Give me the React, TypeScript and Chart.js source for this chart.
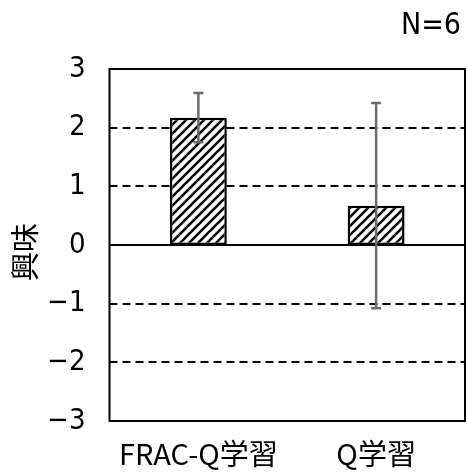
import React, { useEffect, useRef } from "react";
import { Chart, registerables } from "chart.js";

Chart.register(...registerables);

const categories = ["FRAC-Q学習", "Q学習"];
const means = [2.17, 0.67];
const errors = [0.42, 1.75];
const yMin = -3;
const yMax = 3;
const dashedTicks = [-2, -1, 1, 2];
const sampleLabel = "N=6";
const yTitle = "興味";

const FONT = "'DejaVu Sans Condensed', 'Noto Sans CJK JP', sans-serif";
const CAT_FONT = "'Noto Sans CJK JP', sans-serif";

function makeHatch(): CanvasPattern | string {
  const n = 9;
  const c = document.createElement("canvas");
  c.width = n;
  c.height = n;
  const g = c.getContext("2d");
  if (!g) return "#fff";
  g.fillStyle = "#fff";
  g.fillRect(0, 0, n, n);
  g.strokeStyle = "#000";
  g.lineWidth = 2.6;
  g.beginPath();
  g.moveTo(-2, n + 2);
  g.lineTo(n + 2, -2);
  g.moveTo(-3, 3);
  g.lineTo(3, -3);
  g.moveTo(n - 3, n + 3);
  g.lineTo(n + 3, n - 3);
  g.stroke();
  const p = g.createPattern(c, "repeat");
  return p || "#fff";
}

const decorPlugin = {
  id: "decor",
  beforeDatasetsDraw(chart: any) {
    const { ctx, chartArea } = chart;
    const y = chart.scales.y;
    ctx.save();
    ctx.strokeStyle = "#000";
    ctx.lineWidth = 2;
    ctx.setLineDash([8, 5]);
    dashedTicks.forEach((v) => {
      const py = Math.round(y.getPixelForValue(v));
      ctx.beginPath();
      ctx.moveTo(chartArea.left, py);
      ctx.lineTo(chartArea.right, py);
      ctx.stroke();
    });
    ctx.setLineDash([]);
    const zy = Math.round(y.getPixelForValue(0));
    ctx.beginPath();
    ctx.moveTo(chartArea.left, zy);
    ctx.lineTo(chartArea.right, zy);
    ctx.stroke();
    ctx.strokeRect(chartArea.left, chartArea.top, chartArea.right - chartArea.left, chartArea.bottom - chartArea.top);
    ctx.restore();
  },
  afterDatasetsDraw(chart: any) {
    const { ctx } = chart;
    const y = chart.scales.y;
    const meta = chart.getDatasetMeta(0);
    ctx.save();
    ctx.strokeStyle = "#6b6b6b";
    ctx.lineWidth = 2.5;
    meta.data.forEach((bar: any, i: number) => {
      const x = bar.x;
      const top = y.getPixelForValue(means[i] + errors[i]);
      const bot = y.getPixelForValue(means[i] - errors[i]);
      ctx.beginPath();
      ctx.moveTo(x, top);
      ctx.lineTo(x, bot);
      ctx.moveTo(x - 5, top);
      ctx.lineTo(x + 5, top);
      ctx.moveTo(x - 5, bot);
      ctx.lineTo(x + 5, bot);
      ctx.stroke();
    });
    ctx.restore();
  },
  afterDraw(chart: any) {
    const { ctx, chartArea } = chart;
    ctx.save();
    ctx.fillStyle = "#000";
    ctx.font = `30px ${FONT}`;
    ctx.textAlign = "right";
    ctx.textBaseline = "middle";
    ctx.fillText(sampleLabel, 461, 26);
    ctx.font = `29px ${CAT_FONT}`;
    ctx.translate(25, (chartArea.top + chartArea.bottom) / 2 + 7);
    ctx.rotate(-Math.PI / 2);
    ctx.textAlign = "center";
    ctx.textBaseline = "middle";
    ctx.fillText(yTitle, 0, 0);
    ctx.restore();
  },
};

export default function App() {
  const ref = useRef<HTMLCanvasElement>(null);
  useEffect(() => {
    document.body.style.margin = "0";
    const canvas = ref.current;
    if (!canvas) return;
    const chart = new Chart(canvas, {
      type: "bar",
      data: {
        labels: categories,
        datasets: [
          {
            data: means,
            backgroundColor: makeHatch() as any,
            borderColor: "#000",
            borderWidth: 2.5,
            borderSkipped: false,
            categoryPercentage: 1,
            barPercentage: 0.32,
          },
        ],
      },
      options: {
        animation: false,
        responsive: true,
        maintainAspectRatio: false,
        layout: { padding: { top: 69, right: 2, left: 0, bottom: 0 } },
        plugins: { legend: { display: false }, tooltip: { enabled: false } },
        scales: {
          x: {
            grid: { display: false, drawTicks: false },
            border: { display: false },
            ticks: { color: "#000", font: { family: CAT_FONT, size: 29 }, padding: 16, maxRotation: 0 },
            afterFit: (s: any) => {
              s.height = 54;
            },
          },
          y: {
            min: yMin,
            max: yMax,
            grid: { display: false, drawTicks: false },
            border: { display: false },
            ticks: {
              stepSize: 1,
              color: "#000",
              font: { family: FONT, size: 29 },
              padding: 24,
              callback: (v: any) => (Number(v) < 0 ? "−" + Math.abs(Number(v)) : String(v)),
            },
            afterFit: (s: any) => {
              s.width = 109.5;
            },
          },
        },
      },
      plugins: [decorPlugin],
    });
    return () => chart.destroy();
  }, []);
  return (
    <div style={{ position: "absolute", left: 0, top: 0, width: 467, height: 475, background: "#fff" }}>
      <canvas ref={ref} />
    </div>
  );
}
